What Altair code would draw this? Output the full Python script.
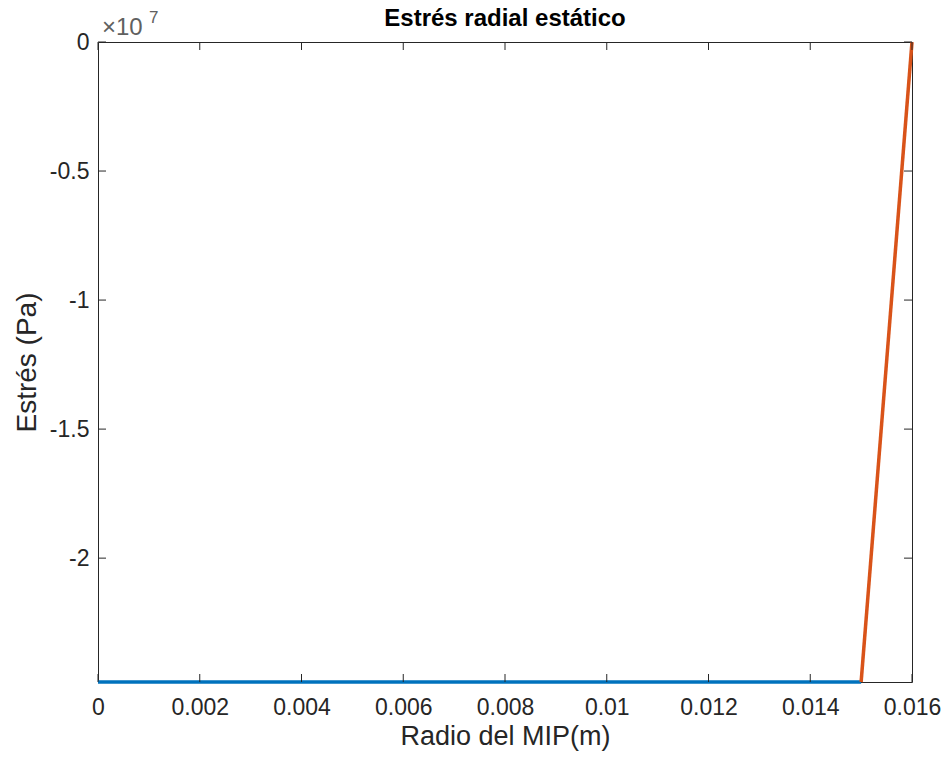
import altair as alt
import pandas as pd

# Radial stress profile (Pa) across the MIP radius (m)
radio_azul = [0.0, 0.015]
estres_azul = [-2.48e7, -2.48e7]
radio_naranja = [0.015, 0.016]
estres_naranja = [-2.48e7, 0.0]

x_ticks = [0, 0.002, 0.004, 0.006, 0.008, 0.01, 0.012, 0.014, 0.016]
y_ticks = [0, -5e6, -1e7, -1.5e7, -2e7]

W, H = 814, 640
FONT = "Liberation Sans"
INK = "#262626"

df_azul = pd.DataFrame({"r": radio_azul, "s": estres_azul})
df_naranja = pd.DataFrame({"r": radio_naranja, "s": estres_naranja})
df_xt = pd.DataFrame({"r": x_ticks})
df_yt = pd.DataFrame({"s": y_ticks})

xscale = alt.Scale(domain=[0, 0.016], nice=False, zero=False)
yscale = alt.Scale(domain=[-2.48e7, 0], nice=False, zero=False)

x_axis = alt.Axis(
    values=x_ticks, labelExpr="'' + datum.value", tickSize=0, grid=False,
    domain=False, labelFont=FONT, labelFontSize=23, labelColor=INK,
    labelPadding=14, labelFlush=False, labelOverlap=False,
    title="Radio del MIP(m)", titleFont=FONT,
    titleFontSize=27, titleFontWeight="normal", titleColor=INK, titlePadding=4,
)
y_axis = alt.Axis(
    values=y_ticks, labelExpr="'' + datum.value / 1e7", tickSize=0, grid=False,
    domain=False, labelFont=FONT, labelFontSize=23, labelColor=INK,
    labelPadding=9, labelFlush=False, labelOverlap=False,
    title="Estrés (Pa)", titleFont=FONT, titleFontSize=28,
    titleFontWeight="normal", titleColor=INK, titlePadding=8,
)


def X():
    return alt.X("r:Q", scale=xscale, axis=x_axis)


def Y():
    return alt.Y("s:Q", scale=yscale, axis=y_axis)


azul = alt.Chart(df_azul).mark_line(color="#0072BD", strokeWidth=3.5).encode(
    x=X(), y=Y())
naranja = alt.Chart(df_naranja).mark_line(color="#D95319", strokeWidth=3.5).encode(
    x=X(), y=Y())

# inward ticks on all four sides of the box
tick_style = dict(color=INK, size=8, thickness=1, opacity=1)
xt_bottom = alt.Chart(df_xt).mark_tick(orient="vertical", **tick_style).encode(
    x=X(), y=alt.value(H - 4))
xt_top = alt.Chart(df_xt).mark_tick(orient="vertical", **tick_style).encode(
    x=X(), y=alt.value(4))
yt_left = alt.Chart(df_yt).mark_tick(orient="horizontal", **tick_style).encode(
    y=Y(), x=alt.value(4))
yt_right = alt.Chart(df_yt).mark_tick(orient="horizontal", **tick_style).encode(
    y=Y(), x=alt.value(W - 4))

# chart title and axis exponent label
titulo = alt.Chart(pd.DataFrame({"t": ["Estrés radial estático"]})).mark_text(
    font=FONT, fontSize=24, fontWeight="bold", color="#000000",
    align="center", baseline="middle"
).encode(text="t:N", x=alt.value(W / 2), y=alt.value(-23))
exp_base = alt.Chart(pd.DataFrame({"t": ["\u00d710"]})).mark_text(
    font=FONT, fontSize=24, color="#606060", align="left", baseline="alphabetic"
).encode(text="t:N", x=alt.value(4), y=alt.value(-7))
exp_pow = alt.Chart(pd.DataFrame({"t": ["7"]})).mark_text(
    font=FONT, fontSize=17, color="#606060", align="left", baseline="alphabetic"
).encode(text="t:N", x=alt.value(51), y=alt.value(-19))

chart = alt.layer(
    azul, naranja, xt_bottom, xt_top, yt_left, yt_right, titulo, exp_base, exp_pow
).properties(
    width=W, height=H,
    background="white",
    autosize=alt.AutoSizeParams(type="none"),
    padding={"left": 98, "top": 42, "right": 35, "bottom": 84},
).configure_view(
    stroke=INK, strokeWidth=1
)

chart.save("out.html", embed_options={"renderer": "svg", "actions": False})
